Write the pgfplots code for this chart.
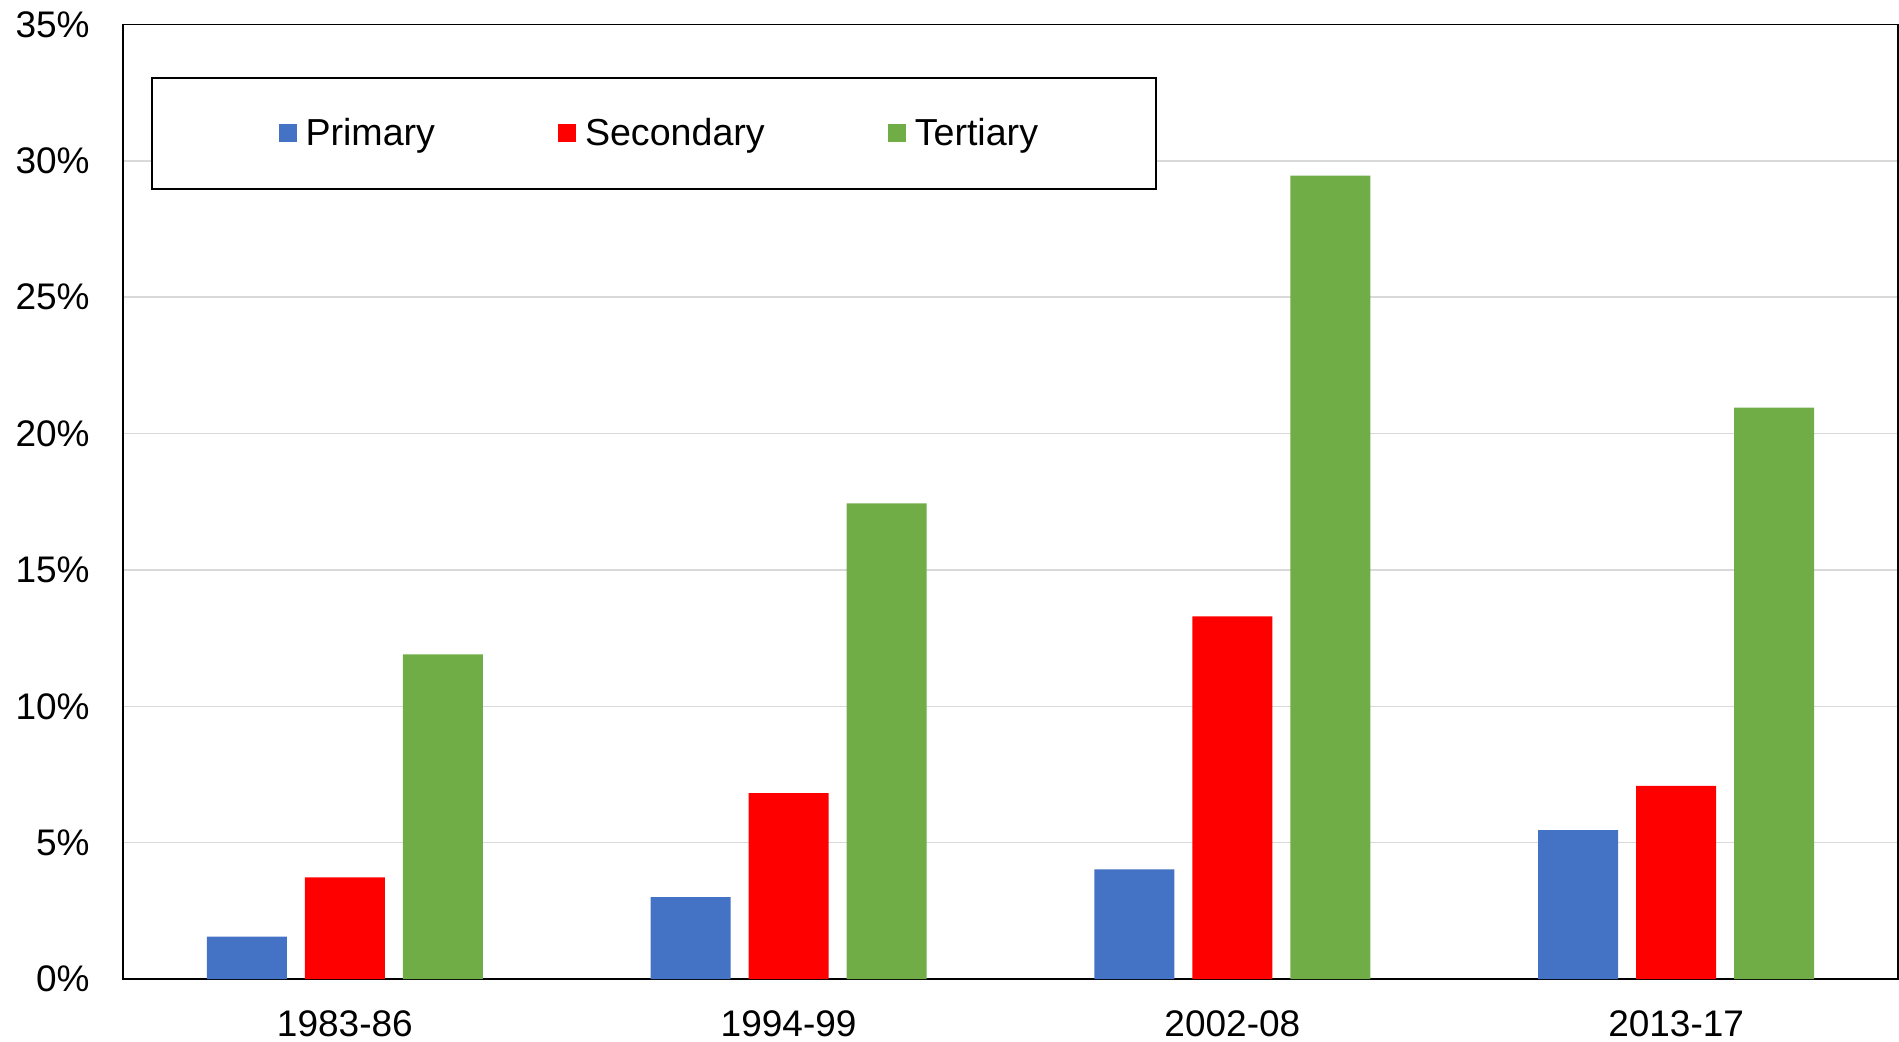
\documentclass[border=0pt]{standalone}
\usepackage{fontspec}
\setmainfont{Liberation Sans}
\usepackage{pgfplots}
\pgfplotsset{compat=1.18}
\definecolor{cP}{HTML}{4472C4}
\definecolor{cS}{HTML}{FF0000}
\definecolor{cT}{HTML}{70AD47}
\definecolor{gridc}{HTML}{D9D9D9}
\begin{document}
\begin{tikzpicture}
\begin{axis}[
  scale only axis, width=887.5pt, height=477.25pt,
  xmin=-0.5, xmax=3.5, ymin=0, ymax=35,
  ybar=9pt, bar width=40pt,
  xtick={0,1,2,3}, xticklabels={1983-86,1994-99,2002-08,2013-17},
  ytick={0,5,...,35},
  yticklabel={\pgfmathprintnumber{\tick}\%},
  /pgf/number format/assume math mode=true,
  ymajorgrids, grid style={gridc, line width=0.75pt},
  major tick length=0pt, tick style={draw=none},
  axis line style={black, line width=0.9pt},
  ticklabel style={font=\fontsize{18.5}{22}\selectfont},
  yticklabel style={inner sep=0pt, xshift=-16.5pt},
  xticklabel style={inner sep=0pt, yshift=-15.4pt},
  legend columns=3,
  legend style={at={(axis description cs:0.01577,0.9445)}, anchor=north west,
    draw=black, line width=0.9pt, font=\fontsize{18.8}{22}\selectfont,
    inner xsep=57pt, inner ysep=18pt,
    nodes={inner sep=2pt},
    /tikz/every even column/.append style={column sep=59.5pt}},
  legend image code/.code={\path (11.5pt,0pt); \fill[#1,draw=none] (0pt,-4.5pt) rectangle (9pt,4.5pt);},
]
\addplot[fill=cP, draw=none,
  legend image code/.code={\path (-6.3pt,0pt) (11.5pt,0pt); \fill[cP,draw=none] (0pt,-4.5pt) rectangle (9pt,4.5pt);}]
  coordinates {(0,1.55) (1,3.0) (2,4.02) (3,5.46)};
\addplot[fill=cS, draw=none] coordinates {(0,3.73) (1,6.82) (2,13.3) (3,7.08)};
\addplot[fill=cT, draw=none] coordinates {(0,11.9) (1,17.44) (2,29.46) (3,20.95)};
\legend{Primary,Secondary,Tertiary}
\coordinate (bl) at (rel axis cs:0,0);
\end{axis}
\pgfresetboundingbox
\path[use as bounding box] (bl) ++(-61.5pt,-31pt) rectangle ++(949.5pt,520.5pt);
\end{tikzpicture}
\end{document}
